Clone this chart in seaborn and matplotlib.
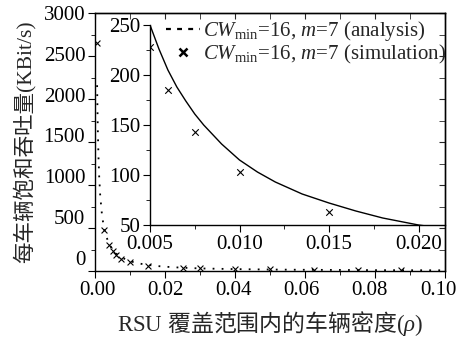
import numpy as np
import pandas as pd
import matplotlib
matplotlib.use("Agg")
import matplotlib.pyplot as plt
import seaborn as sns
from matplotlib.ticker import MultipleLocator, FormatStrFormatter
from matplotlib.lines import Line2D
from matplotlib.transforms import ScaledTranslation

# ---- data ----
rho_analysis = [0.0006, 0.0008, 0.001, 0.0012, 0.0015, 0.002, 0.0025, 0.003, 0.004,
                0.005, 0.0055, 0.006, 0.0065, 0.007, 0.0075, 0.008, 0.009, 0.010,
                0.011, 0.012, 0.0135, 0.015, 0.0165, 0.018, 0.020, 0.025, 0.030,
                0.040, 0.050, 0.060, 0.070, 0.080, 0.090, 0.100]
thr_analysis = [2160, 1650, 1320, 1095, 870, 650, 515, 428, 316,
                250, 226, 205, 188, 174, 161, 150, 131, 115,
                103, 93, 81, 72, 64, 57, 50, 38, 30,
                22, 17, 14, 12, 10, 9, 8]

rho_sim = [0.0005, 0.0025, 0.004, 0.005, 0.006, 0.0075, 0.010, 0.015,
           0.025, 0.030, 0.040, 0.050, 0.0625, 0.075, 0.0875]
thr_sim = [2650, 480, 300, 228, 185, 143, 103, 63,
           38, 32, 25, 20, 15, 12, 10]

label_analysis = r"$\mathit{CW}_{\mathrm{min}}$=16, $\mathit{m}$=7 (analysis)"
label_sim = r"$\mathit{CW}_{\mathrm{min}}$=16, $\mathit{m}$=7 (simulation)"
xlabel = r"RSU $\mathsf{覆盖范围内的车辆密度}$($\mathit{\rho}$)"
ylabel = "每车辆饱和吞吐量(KBit/s)"

df_a = pd.DataFrame({"rho": rho_analysis, "thr": thr_analysis})
df_s = pd.DataFrame({"rho": rho_sim, "thr": thr_sim})

sns.set_style("ticks")
plt.rcParams["font.family"] = ["Liberation Serif", "Noto Sans CJK SC"]
plt.rcParams["mathtext.fontset"] = "custom"
plt.rcParams["mathtext.rm"] = "Liberation Serif"
plt.rcParams["mathtext.it"] = "Liberation Serif:italic"
plt.rcParams["mathtext.sf"] = "Noto Sans CJK SC"
plt.rcParams["axes.linewidth"] = 1.0

W, H = 459, 338
fig = plt.figure(figsize=(W / 100, H / 100), dpi=100)
fig.patch.set_facecolor("white")

# main axes
ax = fig.add_axes([95 / W, 1 - 271 / H, 350 / W, 258 / H])
sns.lineplot(data=df_a, x="rho", y="thr", ax=ax, color="black",
             linestyle=(0, (1, 4)), linewidth=1.3, estimator=None, sort=False)
sns.scatterplot(data=df_s, x="rho", y="thr", ax=ax, marker="x", color="black",
                s=18, linewidth=0.8)
ax.set_xlim(0, 0.1)
ax.set_ylim(0, 3000)
ax.xaxis.set_major_locator(MultipleLocator(0.02))
ax.xaxis.set_minor_locator(MultipleLocator(0.01))
ax.xaxis.set_major_formatter(FormatStrFormatter("%.2f"))
ax.yaxis.set_major_locator(MultipleLocator(500))
ax.yaxis.set_minor_locator(MultipleLocator(250))
ax.tick_params(which="both", direction="out", labelsize=15, colors="black")
ax.tick_params(which="major", length=5, pad=2)
ax.tick_params(which="minor", length=3)
for s in ax.spines.values():
    s.set_visible(True)
    s.set_color("black")
ax.set_xlabel(xlabel, fontsize=16.5, labelpad=7)
ax.set_ylabel(ylabel, fontsize=15.5, labelpad=6, fontweight="light")

secx = ax.secondary_xaxis("top")
secx.xaxis.set_major_locator(MultipleLocator(0.02))
secx.xaxis.set_minor_locator(MultipleLocator(0.01))
secx.tick_params(which="both", direction="in", labeltop=False, length=4)
secy = ax.secondary_yaxis("right")
secy.yaxis.set_major_locator(MultipleLocator(500))
secy.yaxis.set_minor_locator(MultipleLocator(250))
secy.tick_params(which="both", direction="in", labelright=False, length=4)

# inset axes
axi = fig.add_axes([150 / W, 1 - 225 / H, 295 / W, 200 / H])
axi.set_facecolor("none")
sns.lineplot(data=df_a, x="rho", y="thr", ax=axi, color="black",
             linewidth=1.0, estimator=None, sort=False)
sns.scatterplot(data=df_s, x="rho", y="thr", ax=axi, marker="x", color="black",
                s=22, linewidth=0.8)
axi.set_xlim(0.005, 0.005 + 295 / 17900)
axi.set_ylim(50, 250)
axi.xaxis.set_major_locator(MultipleLocator(0.005))
axi.xaxis.set_minor_locator(MultipleLocator(0.0025))
axi.xaxis.set_major_formatter(FormatStrFormatter("%.3f"))
axi.yaxis.set_major_locator(MultipleLocator(50))
axi.yaxis.set_minor_locator(MultipleLocator(25))
axi.tick_params(which="both", direction="out", labelsize=15, colors="black")
axi.tick_params(which="major", length=5, pad=2)
axi.tick_params(which="minor", length=3)
axi.spines["top"].set_visible(False)
axi.spines["right"].set_visible(False)
axi.spines["left"].set_color("black")
axi.spines["bottom"].set_color("black")
axi.set_xlabel("")
axi.set_ylabel("")

handles = [Line2D([], [], color="black", linestyle=(0, (2.2, 2.8)), linewidth=1.6),
           Line2D([], [], color="black", linestyle="none", marker="x",
                  markersize=6, markeredgewidth=1.8)]
leg = axi.legend(handles, [label_analysis, label_sim], loc="upper right",
                 bbox_to_anchor=(1.01, 1.04), frameon=False, fontsize=15,
                 handlelength=1.6, handletextpad=0.15, labelspacing=0.0,
                 borderaxespad=0.0, borderpad=0.1)

# slight label drift as in the reference rendering
fig.canvas.draw()
for t in ax.xaxis.get_major_ticks():
    dx = 2 - 90 * t.get_loc()
    t.label1.set_transform(t.label1.get_transform()
                           + ScaledTranslation(dx / 100, 0, fig.dpi_scale_trans))
for t in ax.yaxis.get_major_ticks():
    dy = 13 * (1 - t.get_loc() / 3000)
    t.label1.set_transform(t.label1.get_transform()
                           + ScaledTranslation(0, dy / 100, fig.dpi_scale_trans))

fig.savefig("out.png", dpi=100, facecolor="white")
